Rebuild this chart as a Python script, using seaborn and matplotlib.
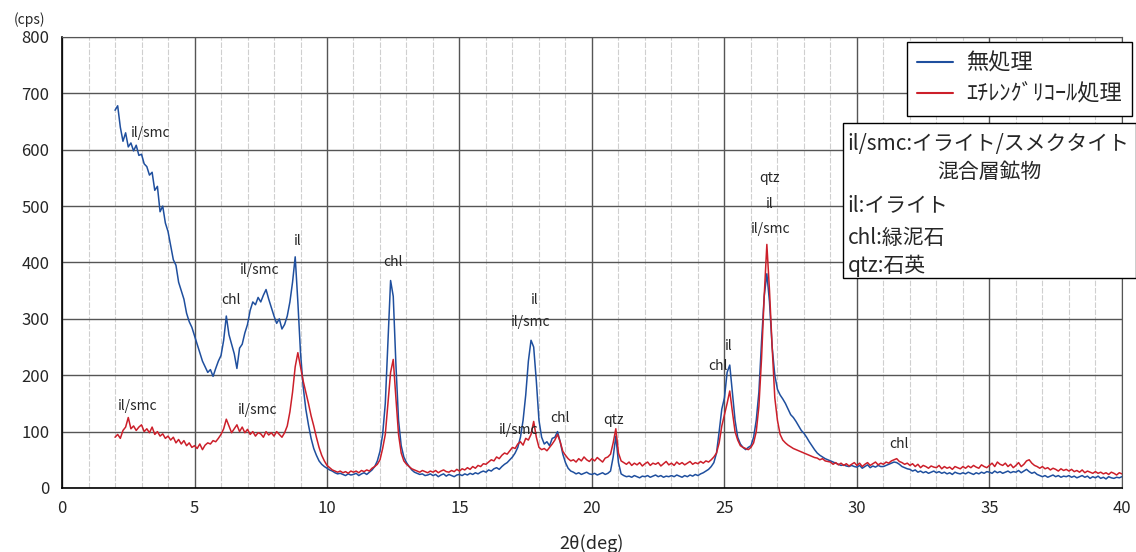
import numpy as np
import pandas as pd
import seaborn as sns
from matplotlib import pyplot as plt
from matplotlib.patches import Rectangle
from matplotlib.lines import Line2D

# 2theta grid (deg), one reading every 0.1 deg from 2 to 40
two_theta = np.round(np.arange(2.0, 40.05, 0.1), 1)

# untreated sample (cps), one row per degree
untreated = [
    670, 678, 640, 615, 630, 605, 612, 598, 608, 590,   # 2
    592, 575, 570, 555, 560, 528, 535, 490, 500, 470,   # 3
    455, 430, 405, 395, 365, 350, 335, 310, 295, 285,   # 4
    270, 255, 240, 225, 215, 205, 210, 198, 212, 225,   # 5
    235, 262, 305, 272, 255, 238, 212, 248, 255, 275,   # 6
    290, 315, 330, 325, 338, 330, 342, 352, 335, 320,   # 7
    305, 292, 300, 282, 290, 305, 330, 365, 410, 330,   # 8
    240, 180, 140, 112, 88, 70, 58, 48, 42, 38,         # 9
    35, 32, 30, 27, 25, 26, 24, 22, 25, 23,             # 10
    24, 26, 22, 25, 27, 24, 28, 32, 38, 48,             # 11
    65, 95, 150, 260, 368, 340, 220, 120, 75, 55,       # 12
    45, 38, 32, 28, 26, 24, 25, 22, 23, 25,             # 13
    22, 24, 20, 23, 25, 21, 24, 22, 20, 23,             # 14
    24, 22, 25, 23, 26, 24, 27, 25, 28, 30,             # 15
    28, 32, 30, 34, 36, 33, 38, 42, 45, 50,             # 16
    55, 62, 72, 90, 120, 165, 225, 262, 250, 190,       # 17
    120, 90, 78, 82, 75, 88, 90, 100, 82, 60,           # 18
    45, 35, 30, 28, 25, 27, 24, 26, 28, 25,             # 19
    24, 26, 23, 25, 27, 24, 26, 30, 55, 92,             # 20
    45, 25, 22, 20, 21, 19, 22, 20, 18, 21,             # 21
    20, 22, 19, 21, 23, 20, 22, 19, 21, 20,             # 22
    22, 20, 23, 21, 19, 22, 20, 23, 21, 24,             # 23
    22, 25, 27, 30, 33, 38, 45, 62, 100, 140,           # 24
    160, 205, 218, 170, 120, 90, 78, 72, 68, 72,        # 25
    75, 90, 120, 170, 260, 340, 380, 330, 250, 200,     # 26
    175, 165, 158, 150, 140, 130, 125, 118, 110, 102,   # 27
    97, 90, 82, 75, 68, 62, 58, 55, 52, 50,             # 28
    48, 46, 44, 42, 40, 41, 39, 38, 40, 38,             # 29
    37, 40, 35, 38, 41, 36, 39, 37, 40, 38,             # 30
    38, 40, 42, 44, 46, 45, 42, 38, 36, 34,             # 31
    33, 30, 32, 28, 30, 27, 29, 26, 28, 30,             # 32
    27, 29, 26, 28, 25, 27, 24, 28, 26, 25,             # 33
    27, 25, 28, 26, 24, 27, 25, 28, 26, 29,             # 34
    28, 26, 30, 27, 29, 26, 28, 30, 27, 29,             # 35
    28, 31, 27, 30, 33, 29, 26, 28, 24, 22,             # 36
    20, 22, 19, 21, 23, 20, 22, 19, 21, 20,             # 37
    22, 19, 21, 18, 20, 22, 19, 21, 17, 20,             # 38
    18, 21, 17, 19, 16, 20, 18, 17, 19, 18,             # 39
    20,                                                 # 40
]

# ethylene glycol treated sample (cps)
glycol = [
    90, 95, 88, 102, 108, 125, 105, 110, 102, 108,      # 2
    112, 100, 105, 98, 108, 95, 100, 92, 96, 88,        # 3
    92, 85, 90, 80, 86, 78, 84, 75, 80, 72,             # 4
    75, 70, 78, 68, 76, 80, 78, 84, 82, 88,             # 5
    95, 105, 122, 110, 98, 105, 112, 100, 108, 98,      # 6
    104, 95, 100, 92, 98, 96, 90, 100, 94, 98,          # 7
    92, 100, 95, 90, 98, 110, 135, 170, 215, 240,       # 8
    215, 190, 170, 150, 128, 110, 90, 72, 58, 48,       # 9
    40, 36, 32, 30, 28, 30, 27, 29, 26, 30,             # 10
    28, 30, 27, 31, 29, 32, 30, 35, 38, 42,             # 11
    50, 70, 95, 150, 205, 228, 160, 95, 62, 48,         # 12
    42, 38, 34, 32, 30, 28, 31, 29, 27, 30,             # 13
    28, 31, 27, 30, 32, 29, 28, 31, 29, 33,             # 14
    30, 34, 32, 36, 33, 38, 35, 40, 38, 43,             # 15
    42, 46, 50, 48, 55, 52, 58, 62, 60, 66,             # 16
    72, 70, 78, 82, 76, 88, 85, 95, 118, 90,            # 17
    72, 68, 70, 66, 72, 78, 85, 95, 82, 65,             # 18
    58, 52, 48, 50, 46, 52, 48, 55, 50, 47,             # 19
    52, 48, 54, 50, 46, 53, 55, 60, 80, 105,            # 20
    62, 48, 45, 42, 46, 40, 44, 41, 45, 39,             # 21
    43, 46, 40, 44, 42, 45, 39, 43, 47, 41,             # 22
    44, 40, 46, 42, 45, 41, 44, 47, 42, 45,             # 23
    43, 47, 44, 48, 46, 50, 55, 62, 80, 110,            # 24
    130, 150, 172, 135, 100, 85, 75, 72, 70, 68,        # 25
    72, 80, 100, 145, 230, 340, 432, 350, 250, 160,     # 26
    120, 95, 85, 80, 76, 73, 70, 68, 66, 64,            # 27
    62, 60, 58, 56, 54, 53, 50, 52, 48, 47,             # 28
    46, 42, 45, 41, 44, 40, 43, 39, 42, 45,             # 29
    40, 44, 38, 42, 45, 40, 43, 46, 41, 44,             # 30
    42, 46, 44, 48, 50, 52, 47, 45, 42, 44,             # 31
    40, 43, 38, 42, 36, 40, 38, 35, 39, 37,             # 32
    36, 40, 34, 38, 35, 37, 33, 38, 36, 34,             # 33
    38, 35, 39, 36, 40, 37, 35, 41, 38, 36,             # 34
    40, 44, 38, 46, 42, 40, 44, 38, 42, 36,             # 35
    40, 45, 38, 42, 48, 50, 44, 40, 38, 35,             # 36
    38, 34, 36, 32, 35, 33, 30, 34, 31, 33,             # 37
    30, 33, 29, 31, 28, 32, 27, 30, 28, 26,             # 38
    29, 26, 28, 25, 27, 24, 28, 26, 23, 27,             # 39
    25,                                                 # 40
]

series_names = ['無処理', 'ｴﾁﾚﾝｸﾞﾘｺｰﾙ処理']
colors = {'無処理': '#1f4f9e', 'ｴﾁﾚﾝｸﾞﾘｺｰﾙ処理': '#cc1f2a'}

# peak labels: (text, 2theta, cps)
peak_labels = [
    ('il/smc', 3.35, 629), ('chl', 6.38, 333), ('il/smc', 7.45, 386), ('il', 8.9, 438),
    ('chl', 12.5, 400), ('il', 17.85, 333), ('il/smc', 17.7, 294),
    ('il/smc', 17.25, 103), ('chl', 18.8, 124), ('qtz', 20.83, 121),
    ('chl', 24.75, 216), ('il', 25.17, 252),
    ('qtz', 26.7, 550), ('il', 26.7, 503), ('il/smc', 26.75, 459),
    ('chl', 31.6, 78), ('il/smc', 2.87, 145), ('il/smc', 7.4, 138),
]

key_lines = ['il/smc:イライト/スメクタイト', '混合層鉱物', 'il:イライト', 'chl:緑泥石', 'qtz:石英']

df = pd.concat([
    pd.DataFrame({'2theta': two_theta, 'cps': untreated, 'sample': series_names[0]}),
    pd.DataFrame({'2theta': two_theta, 'cps': glycol, 'sample': series_names[1]}),
])

sns.set_style('white')
plt.rcParams['font.family'] = ['Noto Sans CJK JP', 'DejaVu Sans']

fig = plt.figure(figsize=(11.36, 5.52), dpi=100)
ax = fig.add_axes([0.0546, 0.116, 0.933, 0.817])

sns.lineplot(data=df, x='2theta', y='cps', hue='sample', palette=colors,
             estimator=None, sort=False, linewidth=1.1, ax=ax, legend=False)

ax.set_xlim(0, 40)
ax.set_ylim(0, 800)
ax.set_xticks(range(0, 41, 5))
ax.set_xticks(range(0, 41, 1), minor=True)
ax.set_yticks(range(0, 801, 100))
ax.grid(True, which='major', color='#555555', linewidth=1.0)
ax.grid(True, which='minor', axis='x', color='#cfcfcf', linewidth=0.8, linestyle=(0, (5, 1.5)))
ax.set_axisbelow(True)
ax.tick_params(which='both', length=0, labelsize=12, pad=9)
for side in ['left', 'bottom']:
    ax.spines[side].set_color('black')
    ax.spines[side].set_linewidth(1.2)
for side in ['top', 'right']:
    ax.spines[side].set_color('#555555')
ax.set_xlabel('2θ(deg)', fontsize=13, labelpad=12)
ax.set_ylabel('')
fig.text(0.012, 0.965, '(cps)', fontsize=10, ha='left', va='center')

for txt, x, y in peak_labels:
    ax.text(x, y, txt, fontsize=10, ha='center', va='center')

handles = [Line2D([], [], color=colors[n], linewidth=1.5) for n in series_names]
leg = ax.legend(handles, series_names, loc='upper right', bbox_to_anchor=(1.0094, 0.989),
                borderaxespad=0, fontsize=16, frameon=True, fancybox=False, handlelength=1.6,
                borderpad=0.45, labelspacing=0.35, handletextpad=0.6)
leg.get_frame().set_edgecolor('black')
leg.get_frame().set_linewidth(1.0)
leg.get_frame().set_alpha(1)

box = Rectangle((0.737, 0.466), 0.276, 0.343, transform=ax.transAxes, facecolor='white',
                edgecolor='black', linewidth=1.0, clip_on=False, zorder=5)
ax.add_patch(box)
key_pos = [(0.741, 0.762, 'left'), (0.875, 0.700, 'center'), (0.741, 0.627, 'left'),
           (0.741, 0.555, 'left'), (0.741, 0.493, 'left')]
for line, (kx, ky, kha) in zip(key_lines, key_pos):
    ax.text(kx, ky, line, transform=ax.transAxes, fontsize=15, ha=kha, va='center', zorder=6)

fig.savefig('out.png', dpi=100)
